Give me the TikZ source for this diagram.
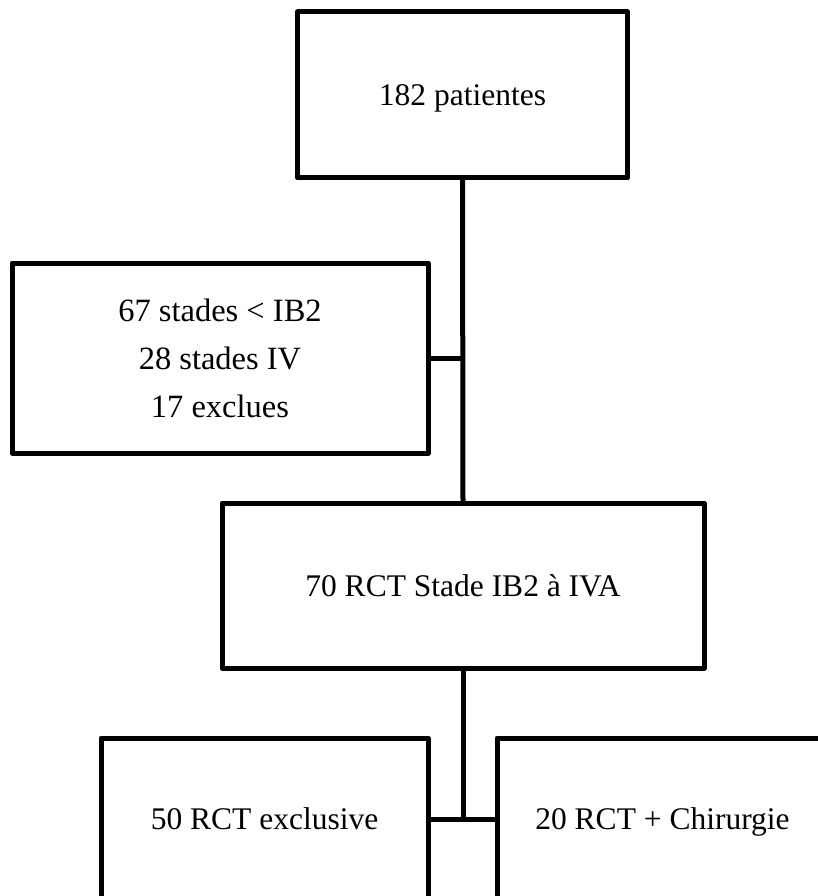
\documentclass[tikz,border=0pt]{standalone}
\usepackage{fontspec}
\setmainfont{Liberation Serif}
\begin{document}
\begin{tikzpicture}[x=1pt,y=-1pt,
  box/.style={draw=black, line width=5pt, line join=round, inner sep=0pt, outer sep=0pt,
    align=center, font=\fontsize{31.5}{38}\selectfont},
  oneline/.style={text height=25pt, text depth=4pt},
  link/.style={draw=black, line width=5pt}]
\useasboundingbox (0,0) rectangle (818,896);
\clip (0,0) rectangle (818,896);
\node[box, oneline, minimum width=330pt, minimum height=166pt] (top) at (462.5,95) {182 patientes};
\node[box, minimum width=416pt, minimum height=190pt,
  font=\fontsize{32.5}{48}\selectfont] (left) at (220,358) {67 stades < IB2\\28 stades IV\\17 exclues};
\node[box, oneline, minimum width=482pt, minimum height=165pt] (mid) at (463,585.5) {70 RCT Stade IB2 à IVA};
\node[box, oneline, minimum width=327pt, minimum height=162pt] (bl) at (264.5,819) {50 RCT exclusive};
\node[box, oneline, minimum width=331pt, minimum height=162pt] (br) at (662.5,819) {20 RCT + Chirurgie};
\coordinate (split) at (mid.south |- bl.east);
\draw[link] (top.south) -- (mid.north);
\draw[link] (left.east) -- (top.south |- left.east);
\draw[link] (mid.south) -- (split);
\draw[link] (bl.east) -- (br.west);
\end{tikzpicture}
\end{document}
